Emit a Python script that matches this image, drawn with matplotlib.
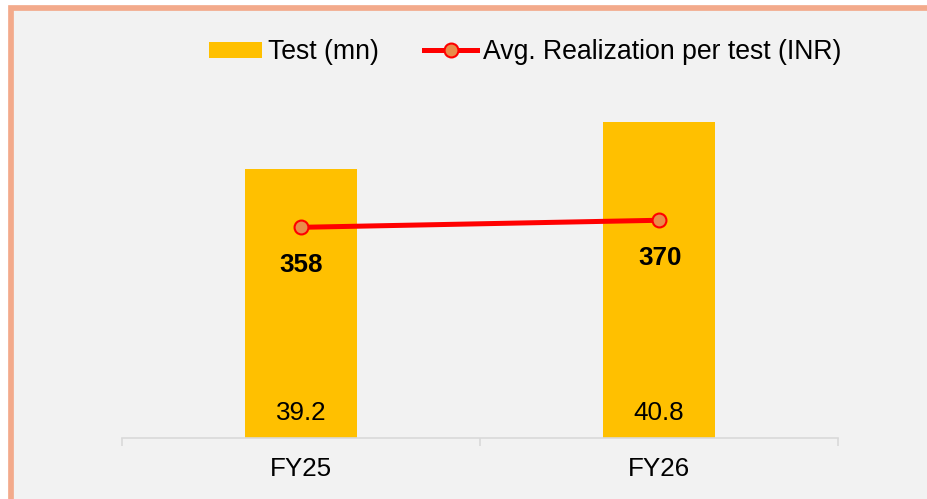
import matplotlib.pyplot as plt
from matplotlib.lines import Line2D
from matplotlib.patches import Patch, Rectangle

plt.rcParams['font.family'] = ['Liberation Sans', 'DejaVu Sans']

years = ['FY25', 'FY26']
tests_mn = [39.2, 40.8]
avg_realization = [358, 370]

W, H = 927, 499
fig = plt.figure(figsize=(W / 100, H / 100), dpi=100)
fig.patch.set_facecolor('white')

# panel background and salmon frame
fig.patches.append(Rectangle((11.3 / W, -0.01), 1.05, 1 - 7.8 / H + 0.01,
                             transform=fig.transFigure, facecolor='#F2F2F2',
                             edgecolor='#F3AA8B', linewidth=4.1, zorder=-10))

ax = fig.add_axes([122 / W, (H - 438) / H, 716 / W, 409 / H])
ax.set_facecolor('none')
x = range(len(years))

bars = ax.bar(x, tests_mn, width=0.313, color='#FFC000', zorder=2)
ax.set_ylim(30, 44)
ax.set_xlim(-0.5, 1.5)
ax.set_yticks([])
for s in ['left', 'right', 'top']:
    ax.spines[s].set_visible(False)
ax.spines['bottom'].set_color('#D9D9D9')
ax.spines['bottom'].set_linewidth(1.2)

ax.set_xticks(list(x))
ax.set_xticklabels(years, fontsize=18.7)
ax.tick_params(axis='x', which='major', length=0, pad=14)
ax.set_xticks([-0.5, 0.5, 1.5], minor=True)
ax.tick_params(axis='x', which='minor', length=5.8, width=1.2, color='#D9D9D9')

for xi, v in zip(x, tests_mn):
    ax.annotate(f'{v:.1f}', (xi, 30), xytext=(0, 18), textcoords='offset points',
                ha='center', va='center', fontsize=18.7, zorder=4)

ax2 = ax.twinx()
ax2.set_ylim(0, 695)
ax2.set_yticks([])
for s in ax2.spines.values():
    s.set_visible(False)
ax2.plot(x, avg_realization, color='#FF0000', linewidth=3.6, marker='o',
         markersize=10, markerfacecolor='#E98C4A', markeredgecolor='#FF0000',
         markeredgewidth=1.5, zorder=3)
for xi, v in zip(x, avg_realization):
    ax2.annotate(f'{v}', (xi, v), xytext=(1 if xi else 0, -27), textcoords='offset points',
                 ha='center', va='center', fontsize=18.7, fontweight='bold')

handles = [Patch(facecolor='#FFC000', edgecolor='none'),
           Line2D([], [], color='#FF0000', linewidth=3.6, marker='o', markersize=10,
                  markerfacecolor='#E98C4A', markeredgecolor='#FF0000',
                  markeredgewidth=1.5)]
fig.legend(handles, ['Test (mn)', 'Avg. Realization per test (INR)'],
           loc='center', bbox_to_anchor=(525 / W, 1 - 52 / H), ncol=2,
           frameon=False, fontsize=19.2, handlelength=2.0, handleheight=0.55,
           handletextpad=0.2, columnspacing=1.7, borderpad=0)

fig.savefig('out.png', dpi=100)
